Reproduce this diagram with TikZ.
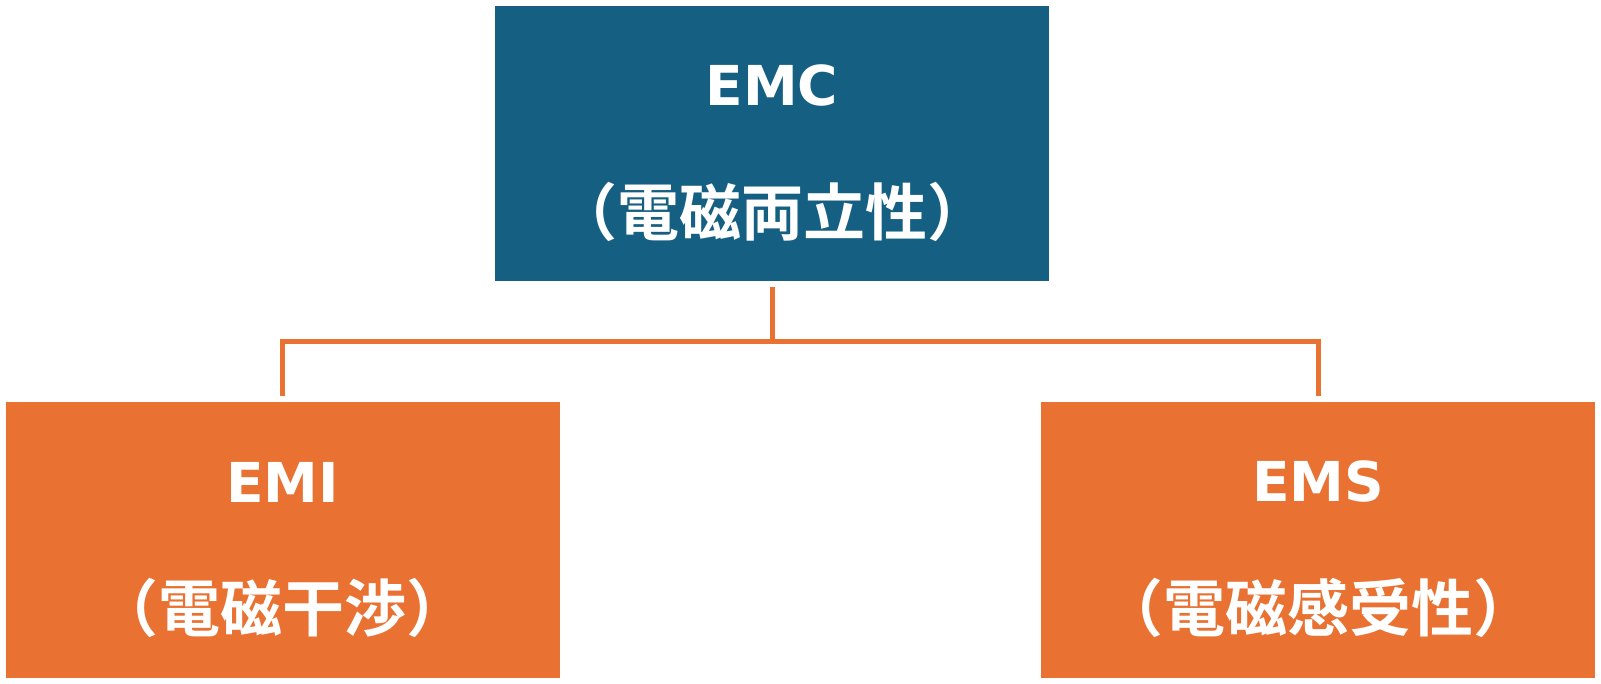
\documentclass[tikz,border=0pt]{standalone}
\usepackage{fontspec}
\newfontfamily\lat{DejaVu Sans}
\newfontfamily\cjk{Noto Sans CJK JP}[BoldFont={* Bold}]
\definecolor{navy}{HTML}{156082}
\definecolor{orng}{HTML}{E97132}
\tikzset{
  box/.style={rectangle, inner sep=0pt, minimum width=554pt, minimum height=275pt, text=white, align=center, font=\bfseries},
  conn/.style={draw=orng, line width=5pt}
}
\newcommand{\boxtext}[2]{{\lat\fontsize{55}{60}\selectfont\rule{0pt}{60pt}#1}\\[75pt]{\cjk\fontsize{62}{60}\selectfont （#2）}}
\begin{document}
\begin{tikzpicture}[x=1pt,y=-1pt]
\useasboundingbox (0,0) rectangle (1601,684);
\node[box, fill=navy] (emc) at (772,143.5) {\boxtext{EMC}{電磁両立性}};
\node[box, fill=orng] (emi) at (282.5,540) {\boxtext{EMI}{電磁干渉}};
\node[box, fill=orng] (ems) at (1318,540) {\boxtext{EMS}{電磁感受性}};
\coordinate (bus) at (0,342);
\draw[conn] ([yshift=-6pt]emc.south) -- (emc.south |- bus);
\draw[conn] ([yshift=6pt]emi.north) -- (emi.north |- bus) -- (ems.north |- bus) -- ([yshift=6pt]ems.north);
\end{tikzpicture}
\end{document}
